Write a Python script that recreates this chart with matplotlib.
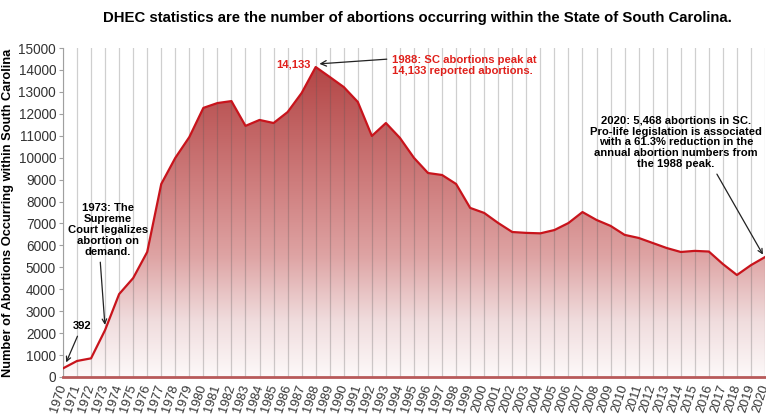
import numpy as np
import matplotlib
matplotlib.use("Agg")
import matplotlib.pyplot as plt
from matplotlib.colors import LinearSegmentedColormap

plt.rcParams['font.family'] = ['Liberation Sans', 'DejaVu Sans']

years = list(range(1970, 2021))
abortions = [392, 730, 850, 2140, 3780, 4510, 5700, 8800, 9990, 10940,
             12270, 12490, 12580, 11450, 11720, 11580, 12080, 12950, 14133, 13680,
             13220, 12540, 10990, 11580, 10900, 9990, 9300, 9210, 8800, 7710,
             7480, 7020, 6610, 6570, 6550, 6700, 7020, 7520, 7160, 6890,
             6480, 6340, 6110, 5880, 5700, 5750, 5720, 5150, 4650, 5100,
             5468]
yticks = list(range(0, 15001, 1000))

title = "DHEC statistics are the number of abortions occurring within the State of South Carolina."
ylabel = "Number of Abortions Occurring within South Carolina"

fig = plt.figure(figsize=(7.66, 4.15), dpi=100)
ax = fig.add_axes([0.0822, 0.0916, 0.9165, 0.7927])

x = np.array(years)
y = np.array(abortions)

cmap = LinearSegmentedColormap.from_list(
    "g", [(0.0, "#fdf9f9"), (0.18, "#f0dcdd"), (0.39, "#dea3a3"),
          (0.57, "#d28585"), (1.0, "#b34545")])
grad = np.linspace(0, 1, 256).reshape(-1, 1)
im = ax.imshow(grad, extent=[1970, 2020, 0, 14200], origin='lower', aspect='auto',
               cmap=cmap, zorder=1)
poly = ax.fill_between(x, 0, y, color='none', zorder=1)
im.set_clip_path(poly.get_paths()[0], transform=ax.transData)

for yr in years:
    ax.axvline(yr, color='#555555', alpha=0.28, lw=0.9, zorder=2)

ax.plot(x, y, color='#c8141c', lw=1.6, zorder=3)

ax.set_xlim(1970, 2020)
ax.set_ylim(0, 15000)
ax.set_yticks(yticks)
ax.set_yticklabels([str(v) for v in yticks], fontsize=9.8, color='#333333')
ax.set_xticks(years)
ax.set_xticklabels([str(v) for v in years], fontsize=9.2, color='#333333',
                   rotation=72, ha='right', va='center', rotation_mode='anchor')
ax.tick_params(axis='x', length=0, pad=6)
ax.tick_params(axis='y', length=3, color='#a0a0a0', pad=2)

for s in ['top', 'right']:
    ax.spines[s].set_visible(False)
ax.spines['left'].set_color('#a0a0a0')
ax.spines['bottom'].set_color('#b85a5a')
ax.spines['bottom'].set_linewidth(2)
ax.spines['bottom'].set_zorder(4)

ax.set_ylabel(ylabel, fontsize=9.3, fontweight='bold', labelpad=3)
fig.text(0.545, 0.957, title, ha='center', va='center', fontsize=10.7, fontweight='bold')

fs = 8.1
arrow = dict(arrowstyle='->', color='#222222', lw=0.9)
ax.annotate("392", xy=(1970.15, 550), xytext=(1971.35, 2330), ha='center', va='center',
            fontsize=fs, fontweight='bold', arrowprops=arrow)
ax.annotate("1973: The\nSupreme\nCourt legalizes\nabortion on\ndemand.", xy=(1973, 2250),
            xytext=(1973.2, 6700), ha='center', va='center', fontsize=fs, fontweight='bold',
            linespacing=1.1, arrowprops=dict(arrowstyle='->', color='#222222', lw=0.9,
                                             relpos=(0.4, 0.0)))
ax.annotate("", xy=(1988.07, 14270), xytext=(1993.26, 14500), arrowprops=arrow)
ax.text(1987.64, 14270, "14,133", ha='right', va='center', fontsize=fs, fontweight='bold',
        color='#e0201b')
ax.text(1993.4, 14200, "1988: SC abortions peak at\n14,133 reported abortions.", ha='left',
        va='center', fontsize=fs, fontweight='bold', color='#e0201b', linespacing=1.1)
ax.annotate("2020: 5,468 abortions in SC.\nPro-life legislation is associated\nwith a 61.3% reduction in the\nannual abortion numbers from\nthe 1988 peak.",
            xy=(2019.95, 5470), xytext=(2013.67, 10700), ha='center', va='center',
            fontsize=fs, fontweight='bold', linespacing=1.1,
            arrowprops=dict(arrowstyle='->', color='#222222', lw=0.9, relpos=(0.72, 0.0)))

fig.savefig("out.png", dpi=100)
